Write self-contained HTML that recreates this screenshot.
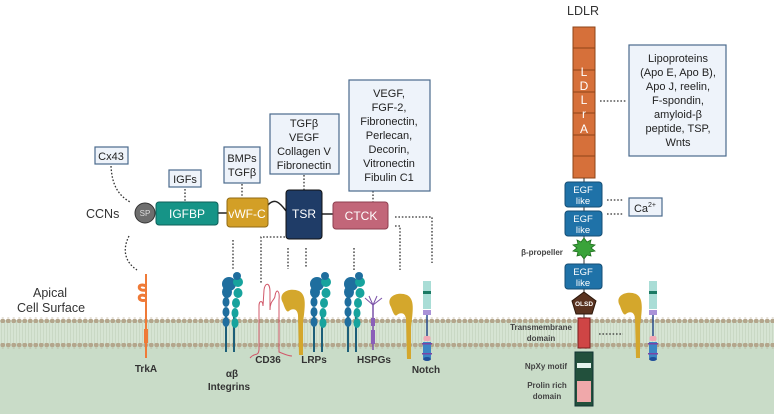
<!DOCTYPE html>
<html><head><meta charset="utf-8"><style>
html,body{margin:0;padding:0;background:#fff}
svg{display:block}
text{font-family:"Liberation Sans",sans-serif}
</style></head><body>
<svg width="783" height="416" viewBox="0 0 783 416" xmlns="http://www.w3.org/2000/svg" fill="#222">
<defs>
<pattern id="dots" x="0" y="0" width="5.5" height="6" patternUnits="userSpaceOnUse"><circle cx="2.75" cy="3" r="2.4" fill="#b3a68c"/></pattern>
<pattern id="stripes" x="0" y="0" width="3" height="4" patternUnits="userSpaceOnUse"><rect width="3" height="4" fill="#d6e4d3"/><rect x="1" width="1" height="4" fill="#c9d8c4"/></pattern>
<g id="integ">
 <line x1="-4" y1="310" x2="-4" y2="352" stroke="#1d5f79" stroke-width="2"/>
 <line x1="4" y1="310" x2="4" y2="352" stroke="#1d5f79" stroke-width="2"/>
 <ellipse cx="-4" cy="322" rx="3.5" ry="5" fill="#1f6e9e"/>
 <ellipse cx="-4" cy="312" rx="3.5" ry="5" fill="#1f6e9e"/>
 <ellipse cx="-4" cy="302" rx="3.5" ry="5" fill="#1f6e9e"/>
 <ellipse cx="-3" cy="292" rx="5" ry="6" fill="#1f6e9e"/>
 <ellipse cx="-1" cy="284" rx="7" ry="7" fill="#1f6e9e"/>
 <ellipse cx="5" cy="323" rx="3.5" ry="5" fill="#17a39d"/>
 <ellipse cx="5" cy="313" rx="3.5" ry="5" fill="#17a39d"/>
 <ellipse cx="6" cy="303" rx="4" ry="5" fill="#17a39d"/>
 <ellipse cx="8" cy="293" rx="4.5" ry="5" fill="#17a39d"/>
 <circle cx="8" cy="282" r="5" fill="#17a39d"/>
 <circle cx="7" cy="276" r="4" fill="#1f6e9e"/>
</g>
<g id="hook">
 <path d="M0,10 C-6,0 6,-6 16,-2 C24,2 22,14 20,30 L20,62 L16,62 L15,22 C14,14 8,16 6,18 C4,20 2,16 0,10Z" fill="#d4a72c"/>
</g>
<g id="notch">
 <rect x="-4" y="0" width="8" height="28" fill="#a9ddd6"/>
 <rect x="-4" y="10" width="8" height="3" fill="#1b7a64"/>
 <rect x="-4" y="29" width="8" height="5" fill="#a992d8"/>
 <line x1="0" y1="34" x2="0" y2="55" stroke="#2a4d8c" stroke-width="1.5"/>
 <rect x="-3.5" y="55" width="7" height="5" rx="2" fill="#f2a9b6"/>
 <rect x="-4" y="61" width="8" height="16" fill="#3c86c4"/>
 <rect x="-5" y="62" width="10" height="1.5" fill="#7b44a4"/>
 <rect x="-5" y="72" width="10" height="1.5" fill="#7b44a4"/>
 <ellipse cx="0" cy="78" rx="4" ry="2" fill="#1f4f9a"/>
</g>
</defs>

<!-- membrane -->
<rect x="0" y="320" width="774" height="94" fill="#c9dcc8"/>
<rect x="0" y="320" width="774" height="26" fill="url(#stripes)"/>
<rect x="0" y="317" width="774" height="6" fill="url(#dots)"/>
<rect x="0" y="343" width="774" height="6" fill="url(#dots)"/>

<text x="33" y="297" font-size="12.5" fill="#333">Apical</text>
<text x="17" y="312" font-size="12.5" fill="#333">Cell Surface</text>

<!-- dotted connectors -->
<g stroke="#333" stroke-width="1.3" stroke-dasharray="1.6,1.8" fill="none">
<path d="M111,166 C112,185 118,195 130,202"/>
<path d="M129,236 C122,250 125,262 137,270"/>
<line x1="185" y1="189" x2="185" y2="202"/>
<line x1="242" y1="184" x2="242" y2="197"/>
<line x1="304" y1="175" x2="304" y2="190"/>
<line x1="373" y1="191" x2="373" y2="202"/>
<line x1="233" y1="240" x2="233" y2="270"/>
<path d="M285,237 L261,237 L261,283"/>
<line x1="288" y1="248" x2="288" y2="269"/>
<line x1="306" y1="248" x2="306" y2="268"/>
<line x1="354" y1="248" x2="354" y2="270"/>
<path d="M395,226 L400,226 L400,270"/>
<path d="M395,217 L432,217 L432,263"/>
<line x1="600" y1="101" x2="626" y2="101"/>
<line x1="607" y1="200" x2="623" y2="200"/>
<line x1="607" y1="214" x2="623" y2="214"/>
<line x1="599" y1="334" x2="623" y2="334"/>
</g>

<!-- label boxes -->
<g fill="#eef3fa" stroke="#4a6a8c" stroke-width="1.2">
<rect x="95" y="147" width="33" height="17"/>
<rect x="169" y="170" width="32" height="17"/>
<rect x="224" y="147" width="36" height="36"/>
<rect x="270" y="114" width="69" height="60"/>
<rect x="349" y="80" width="81" height="111"/>
<rect x="629" y="45" width="97" height="111"/>
<rect x="629" y="198" width="33" height="18"/>
</g>
<g font-size="11" text-anchor="middle" fill="#222">
<text x="111" y="160">Cx43</text>
<text x="185" y="183">IGFs</text>
<text x="242" y="162">BMPs</text><text x="242" y="176">TGFβ</text>
<text x="304" y="127">TGFβ</text><text x="304" y="141">VEGF</text><text x="304" y="155">Collagen V</text><text x="304" y="169">Fibronectin</text>
<text x="389" y="97">VEGF,</text><text x="389" y="111">FGF-2,</text><text x="389" y="125">Fibronectin,</text><text x="389" y="139">Perlecan,</text><text x="389" y="153">Decorin,</text><text x="389" y="167">Vitronectin</text><text x="389" y="181">Fibulin C1</text>
<text x="678" y="62">Lipoproteins</text><text x="678" y="76">(Apo E, Apo B),</text><text x="678" y="90">Apo J, reelin,</text><text x="678" y="104">F-spondin,</text><text x="678" y="118">amyloid-β</text><text x="678" y="132">peptide, TSP,</text><text x="678" y="146">Wnts</text>
<text x="645" y="212">Ca<tspan font-size="7" dy="-5">2+</tspan></text>
</g>

<!-- CCN chain -->
<text x="86" y="218" font-size="12.5" fill="#333">CCNs</text>
<line x1="218" y1="213" x2="228" y2="213" stroke="#222" stroke-width="1.5"/>
<path d="M268,205 C276,196 282,206 287,212" stroke="#222" stroke-width="1.5" fill="none"/>
<line x1="322" y1="214" x2="334" y2="214" stroke="#222" stroke-width="1.5"/>
<circle cx="145" cy="213" r="10" fill="#6e6e6e" stroke="#333"/>
<text x="145" y="216" font-size="8" text-anchor="middle" fill="#ddd">SP</text>
<rect x="156" y="202" width="62" height="23" rx="3" fill="#169487" stroke="#0d5f58"/>
<text x="187" y="218" font-size="12" text-anchor="middle" fill="#fff">IGFBP</text>
<rect x="227" y="198" width="41" height="29" rx="3" fill="#d39f26" stroke="#8f6a14"/>
<text x="247" y="218" font-size="12" text-anchor="middle" fill="#fff">vWF-C</text>
<rect x="286" y="190" width="36" height="49" rx="3" fill="#1f3c67" stroke="#111"/>
<text x="304" y="218" font-size="12" text-anchor="middle" fill="#fff">TSR</text>
<rect x="333" y="202" width="55" height="27" rx="3" fill="#c26679" stroke="#8e3f50"/>
<text x="361" y="220" font-size="12" text-anchor="middle" fill="#fff">CTCK</text>

<!-- TrkA -->
<line x1="146" y1="274" x2="146" y2="358" stroke="#ef7a37" stroke-width="2"/>
<path d="M146,286 C137,282 137,292 146,290 M146,296 C137,292 137,303 146,300" stroke="#ef7a37" stroke-width="3" fill="none"/>
<rect x="144" y="329" width="4" height="14" fill="#ef7a37"/>
<text x="146" y="372" font-size="10" font-weight="bold" text-anchor="middle" fill="#333">TrkA</text>

<!-- integrins -->
<use href="#integ" x="230" y="0"/>
<use href="#integ" x="318" y="0"/>
<use href="#integ" x="352" y="0"/>
<text x="232" y="377" font-size="10" font-weight="bold" text-anchor="middle" fill="#333">αβ</text>
<text x="229" y="390" font-size="10" font-weight="bold" text-anchor="middle" fill="#333">Integrins</text>

<!-- CD36 -->
<path d="M250,358 C255,352 258,357 259,350 L259,306 C259,300 263,300 263,306 L264,290 C265,282 270,282 270,292 L270,310 C270,300 275,300 275,296 C276,288 280,290 279,300 L279,352 C284,354 288,356 292,356" stroke="#d1586a" stroke-width="1" fill="none"/>
<text x="268" y="363" font-size="10" font-weight="bold" text-anchor="middle" fill="#333">CD36</text>

<!-- hooks -->
<use href="#hook" x="283" y="293"/>
<use href="#hook" x="391" y="297"/>
<use href="#hook" x="620" y="296"/>
<text x="314" y="363" font-size="10" font-weight="bold" text-anchor="middle" fill="#333">LRPs</text>

<!-- HSPG -->
<line x1="373" y1="305" x2="373" y2="350" stroke="#7b52a8" stroke-width="1.5"/>
<rect x="371" y="318" width="4" height="8" fill="#8a5fb8"/>
<rect x="371" y="330" width="4" height="14" fill="#8a5fb8"/>
<path d="M373,305 L365,298 M373,305 L369,296 M373,305 L377,296 M373,305 L382,298" stroke="#7b52a8" stroke-width="1" fill="none"/>
<text x="374" y="363" font-size="10" font-weight="bold" text-anchor="middle" fill="#333">HSPGs</text>

<!-- notch -->
<use href="#notch" x="427" y="281"/>
<use href="#notch" x="653" y="281"/>
<text x="426" y="373" font-size="10" font-weight="bold" text-anchor="middle" fill="#333">Notch</text>

<!-- LDLR -->
<text x="583" y="15" font-size="12.5" text-anchor="middle" fill="#333">LDLR</text>
<rect x="573" y="27" width="22" height="151" fill="#d6703a" stroke="#8e4418" stroke-width="1"/>
<g stroke="#8e4418" stroke-width="1">
<line x1="573" y1="48" x2="595" y2="48"/><line x1="573" y1="70" x2="595" y2="70"/><line x1="573" y1="92" x2="595" y2="92"/><line x1="573" y1="113" x2="595" y2="113"/><line x1="573" y1="135" x2="595" y2="135"/><line x1="573" y1="156" x2="595" y2="156"/>
</g>
<g font-size="12" text-anchor="middle" fill="#fff">
<text x="584" y="76">L</text><text x="584" y="90">D</text><text x="584" y="104">L</text><text x="584" y="118">r</text><text x="584" y="133">A</text>
</g>
<line x1="584" y1="178" x2="584" y2="330" stroke="#333" stroke-width="1"/>
<g fill="#1f72a8" stroke="#164e74">
<rect x="565" y="182" width="37" height="25" rx="3"/>
<rect x="565" y="211" width="37" height="25" rx="3"/>
<rect x="565" y="264" width="37" height="25" rx="3"/>
</g>
<g font-size="9.5" text-anchor="middle" fill="#fff">
<text x="583" y="193">EGF</text><text x="583" y="204">like</text>
<text x="583" y="222">EGF</text><text x="583" y="233">like</text>
<text x="583" y="275">EGF</text><text x="583" y="286">like</text>
</g>
<polygon points="584,238 587,242 591,240 590,244 595,245 591,248 595,251 590,252 591,256 587,255 584,259 581,255 577,256 578,252 573,251 577,248 573,245 578,244 577,240 581,242" fill="#3aa33a" stroke="#1d6e1d" stroke-width="0.8"/>
<text x="542" y="255" font-size="8" font-weight="bold" text-anchor="middle" fill="#444">β-propeller</text>
<polygon points="584,292 596,301 592,314 576,314 572,301" fill="#5a3320" stroke="#2a160a"/>
<text x="584" y="306" font-size="6.5" font-weight="bold" text-anchor="middle" fill="#fff">OLSD</text>
<rect x="578" y="318" width="12" height="30" fill="#cf4545" stroke="#7a1f1f"/>
<text x="541" y="330" font-size="8" font-weight="bold" text-anchor="middle" fill="#444">Transmembrane</text>
<text x="541" y="341" font-size="8" font-weight="bold" text-anchor="middle" fill="#444">domain</text>
<rect x="575" y="352" width="18" height="54" fill="#22503c" stroke="#133"/>
<rect x="577" y="363" width="14" height="5" fill="#e6f3ee"/>
<rect x="577" y="381" width="14" height="21" fill="#f0a8aa"/>
<text x="546" y="369" font-size="8" font-weight="bold" text-anchor="middle" fill="#444">NpXy motif</text>
<text x="547" y="388" font-size="8" font-weight="bold" text-anchor="middle" fill="#444">Prolin rich</text>
<text x="547" y="399" font-size="8" font-weight="bold" text-anchor="middle" fill="#444">domain</text>
</svg>
</body></html>
